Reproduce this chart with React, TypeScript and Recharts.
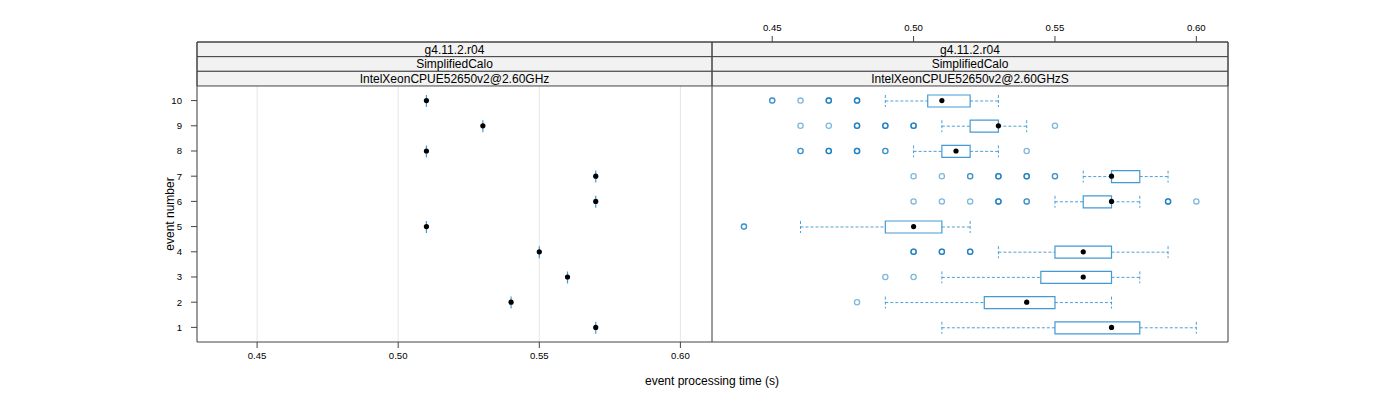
import {
  Bar,
  CartesianGrid,
  ComposedChart,
  ReferenceArea,
  Scatter,
  XAxis,
  YAxis,
} from "recharts";

const EVENTS = [1, 2, 3, 4, 5, 6, 7, 8, 9, 10];
const X_TICKS = [0.45, 0.5, 0.55, 0.6];

const STRIPS_LEFT = ["g4.11.2.r04", "SimplifiedCalo", "IntelXeonCPUE52650v2@2.60GHz"];
const STRIPS_RIGHT = ["g4.11.2.r04", "SimplifiedCalo", "IntelXeonCPUE52650v2@2.60GHzS"];

// left panel: a single timing per event (events 1..10)
const LEFT_TIME = [0.57, 0.54, 0.56, 0.55, 0.51, 0.57, 0.57, 0.51, 0.53, 0.51];

// right panel: box statistics per event (events 1..10)
const RIGHT_LOW = [0.51, 0.49, 0.51, 0.53, 0.46, 0.55, 0.56, 0.5, 0.51, 0.49];
const RIGHT_Q1 = [0.55, 0.525, 0.545, 0.55, 0.49, 0.56, 0.57, 0.51, 0.52, 0.505];
const RIGHT_MEDIAN = [0.57, 0.54, 0.56, 0.56, 0.5, 0.57, 0.57, 0.515, 0.53, 0.51];
const RIGHT_Q3 = [0.58, 0.55, 0.57, 0.57, 0.51, 0.57, 0.58, 0.52, 0.53, 0.52];
const RIGHT_HIGH = [0.6, 0.57, 0.58, 0.59, 0.52, 0.58, 0.59, 0.53, 0.54, 0.53];
// outliers, repeated values are overplotted samples (darker circles)
const RIGHT_OUTLIERS: number[][] = [
  [],
  [0.48],
  [0.49, 0.5],
  [0.5, 0.5, 0.5, 0.51, 0.51, 0.51, 0.52, 0.52, 0.52],
  [0.44, 0.44],
  [0.5, 0.51, 0.52, 0.53, 0.53, 0.53, 0.54, 0.54, 0.59, 0.59, 0.59, 0.6],
  [0.5, 0.51, 0.52, 0.52, 0.53, 0.53, 0.53, 0.54, 0.54, 0.54, 0.55, 0.55],
  [0.46, 0.46, 0.47, 0.47, 0.47, 0.48, 0.48, 0.48, 0.49, 0.49, 0.54],
  [0.46, 0.47, 0.48, 0.48, 0.48, 0.49, 0.49, 0.49, 0.5, 0.5, 0.5, 0.55],
  [0.45, 0.45, 0.46, 0.47, 0.47, 0.47, 0.48, 0.48, 0.48],
];

const X_DOMAIN = [0.4287, 0.6112];
const Y_MIN = 0.42;
const Y_PANEL = 10.58;
const Y_MAX = 12.325;
const STRIP_H = (Y_MAX - Y_PANEL) / 3;

const FONT = "'Liberation Sans', Arial, sans-serif";
const BLUE = "#0072bc";
const BOX_BLUE = "#2f8fcf";
const FRAME = "#444";

type Row = { ev: number; lo: number; q1: number; med: number; q3: number; hi: number };

const leftRows: Row[] = EVENTS.map((ev, i) => ({
  ev,
  lo: LEFT_TIME[i],
  q1: LEFT_TIME[i],
  med: LEFT_TIME[i],
  q3: LEFT_TIME[i],
  hi: LEFT_TIME[i],
}));

const rightRows: Row[] = EVENTS.map((ev, i) => ({
  ev,
  lo: RIGHT_LOW[i],
  q1: RIGHT_Q1[i],
  med: RIGHT_MEDIAN[i],
  q3: RIGHT_Q3[i],
  hi: RIGHT_HIGH[i],
}));

const rightOutliers = EVENTS.flatMap((ev, i) =>
  RIGHT_OUTLIERS[i].map((t) => ({ ev, t })),
);

function LowWhisker(props: any) {
  const { x, y, width, height } = props;
  if (!(width > 0.5)) return <g />;
  const cy = y + height / 2;
  return (
    <g stroke={BOX_BLUE} strokeOpacity={0.85} strokeDasharray="3 2" fill="none">
      <line x1={x} x2={x + width} y1={cy} y2={cy} />
      <line x1={x} x2={x} y1={y} y2={y + height} />
    </g>
  );
}

function HighWhisker(props: any) {
  const { x, y, width, height } = props;
  if (!(width > 0.5)) return <g />;
  const cy = y + height / 2;
  return (
    <g stroke={BOX_BLUE} strokeOpacity={0.85} strokeDasharray="3 2" fill="none">
      <line x1={x} x2={x + width} y1={cy} y2={cy} />
      <line x1={x + width} x2={x + width} y1={y} y2={y + height} />
    </g>
  );
}

function BoxShape(props: any) {
  const { x, y, width, height } = props;
  const w = Math.max(width, 0);
  return (
    <path
      d={`M${x},${y}h${w}v${height}h${-w}Z`}
      fill="none"
      stroke={BOX_BLUE}
      strokeOpacity={0.9}
      strokeWidth={1.2}
    />
  );
}

function MedianDot(props: any) {
  return <circle cx={props.cx} cy={props.cy} r={2.6} fill="#000" />;
}

function OutlierDot(props: any) {
  return (
    <circle
      cx={props.cx}
      cy={props.cy}
      r={2.6}
      fill="none"
      stroke={BLUE}
      strokeOpacity={0.5}
      strokeWidth={1.3}
    />
  );
}

const tickStyle = { fontSize: 9.6, fill: "#000", fontFamily: FONT };

function Panel({
  rows,
  outliers,
  strips,
  side,
}: {
  rows: Row[];
  outliers: { ev: number; t: number }[];
  strips: string[];
  side: "left" | "right";
}) {
  const isLeft = side === "left";
  const medians = rows.map((r) => ({ ev: r.ev, t: r.med }));
  return (
    <ComposedChart
      width={isLeft ? 712 : 530}
      height={400}
      layout="vertical"
      data={rows}
      barGap={-12}
      margin={{ top: 12, right: isLeft ? 0 : 14, bottom: 28, left: 0 }}
    >
      <CartesianGrid horizontal={false} stroke="#e6e6e6" />
      <XAxis
        type="number"
        orientation="bottom"
        domain={X_DOMAIN}
        allowDataOverflow
        ticks={X_TICKS}
        interval={0}
        height={30}
        tickSize={6}
        tickMargin={4}
        axisLine={false}
        tickLine={{ stroke: FRAME }}
        tick={isLeft ? tickStyle : false}
        tickFormatter={(v: number) => v.toFixed(2)}
      />
      <XAxis
        xAxisId="top"
        type="number"
        orientation="top"
        domain={X_DOMAIN}
        allowDataOverflow
        ticks={X_TICKS}
        interval={0}
        height={30}
        tickSize={6}
        tickMargin={5}
        axisLine={false}
        tickLine={{ stroke: FRAME }}
        tick={isLeft ? false : tickStyle}
        tickFormatter={(v: number) => v.toFixed(2)}
      />
      <YAxis
        type="number"
        dataKey="ev"
        reversed
        domain={[Y_MIN, Y_MAX]}
        allowDataOverflow
        ticks={EVENTS}
        interval={0}
        width={isLeft ? 197 : 0}
        hide={!isLeft}
        tickSize={6}
        tickMargin={9}
        axisLine={false}
        tickLine={{ stroke: FRAME }}
        tick={tickStyle}
      />
      {strips.map((s, i) => (
        <ReferenceArea
          key={s + i}
          y1={Y_MAX - (i + 1) * STRIP_H}
          y2={Y_MAX - i * STRIP_H}
          fill="#f2f2f2"
          fillOpacity={1}
          stroke={FRAME}
          strokeOpacity={1}
          label={{
            value: s,
            position: "center",
            fontSize: 12,
            fill: "#000",
            fontFamily: FONT,
          }}
        />
      ))}
      <Bar
        dataKey={(d: Row) => [d.lo, d.q1]}
        barSize={12}
        shape={LowWhisker}
        isAnimationActive={false}
      />
      <Bar
        dataKey={(d: Row) => [d.q3, d.hi]}
        barSize={12}
        shape={HighWhisker}
        isAnimationActive={false}
      />
      <Bar
        dataKey={(d: Row) => [d.q1, d.q3]}
        barSize={12}
        shape={BoxShape}
        isAnimationActive={false}
      />
      {outliers.length > 0 && (
        <Scatter
          data={outliers}
          dataKey="t"
          shape={OutlierDot}
          isAnimationActive={false}
        />
      )}
      <Scatter data={medians} dataKey="t" shape={MedianDot} isAnimationActive={false} />
      <ReferenceArea
        y1={Y_MIN}
        y2={Y_MAX}
        fill="none"
        stroke={FRAME}
        strokeOpacity={1}
      />
    </ComposedChart>
  );
}

export default function App() {
  return (
    <div
      style={{
        position: "absolute",
        left: 0,
        top: 0,
        width: 1400,
        height: 400,
        background: "#fff",
        fontFamily: FONT,
      }}
    >
      <div style={{ position: "absolute", left: 0, top: 0 }}>
        <Panel rows={leftRows} outliers={[]} strips={STRIPS_LEFT} side="left" />
      </div>
      <div style={{ position: "absolute", left: 712, top: 0 }}>
        <Panel rows={rightRows} outliers={rightOutliers} strips={STRIPS_RIGHT} side="right" />
      </div>
      <div
        style={{
          position: "absolute",
          left: 170,
          top: 214,
          transform: "translate(-50%, -50%) rotate(-90deg)",
          fontSize: 12,
          whiteSpace: "nowrap",
        }}
      >
        event number
      </div>
      <div
        style={{
          position: "absolute",
          left: 712,
          top: 381,
          transform: "translate(-50%, -50%)",
          fontSize: 12,
          whiteSpace: "nowrap",
        }}
      >
        event processing time (s)
      </div>
    </div>
  );
}
